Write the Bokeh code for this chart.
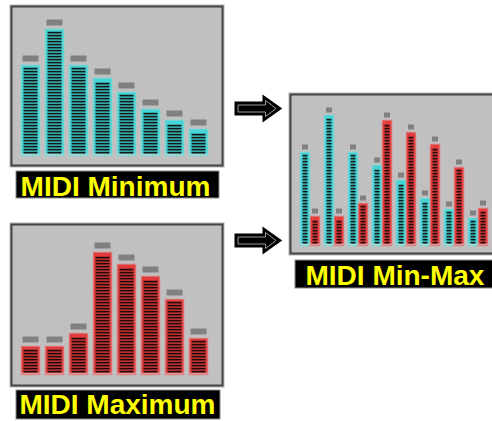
from bokeh.plotting import figure
from bokeh.models import Range1d, ColumnDataSource
from bokeh.core.properties import value
from bokeh.embed import file_html
from bokeh.resources import INLINE

# ---------------- data ----------------
channels = [1, 2, 3, 4, 5, 6, 7, 8]
min_values = [92, 129, 92, 79, 64, 47, 36, 27]
max_values = [29, 29, 42, 124, 112, 100, 77, 37]
titles = ["MIDI Minimum", "MIDI Maximum", "MIDI Min-Max"]

# ---------------- canvas ----------------
W, H = 492, 421
p = figure(width=W, height=H, x_range=Range1d(0, W), y_range=Range1d(H, 0),
           output_backend="svg", toolbar_location=None, min_border=0)
p.axis.visible = False
p.grid.visible = False
p.outline_line_color = None
p.background_fill_color = "white"
p.border_fill_color = "white"

SCHEME = {
    "cyan": dict(halo="#98cece", body="#44d6d6", light="#a6d6d6", dark="#101818"),
    "red": dict(halo="#d4a0a0", body="#e23c3c", light="#e49494", dark="#240a0a"),
}
CAP = "#808080"

layers = {k: dict(left=[], right=[], top=[], bottom=[], color=[]) for k in
          ["frame", "halo", "body", "light", "stripe", "cap"]}


def add(layer, l, r, t, b, c):
    d = layers[layer]
    d["left"].append(l); d["right"].append(r); d["top"].append(t); d["bottom"].append(b); d["color"].append(c)


def frame(x0, x1, y0, y1):
    add("frame", x0 - 1, x1 + 1, y0 - 1, y1 + 1, "#b4b4b4")
    add("frame", x0, x1, y0, y1, "#444444")
    add("frame", x0 + 2, x1 - 2, y0 + 2, y1 - 2, "#c0c0c0")


def bar(xc, w, v, base, k, scheme, cap_w, cap_h, cap_gap):
    s = SCHEME[scheme]
    top = round(base - v * k)
    x0, x1 = xc - w / 2, xc + w / 2
    add("halo", x0 - 1, x1 + 1, top - 1, base + 1, s["halo"])
    add("body", x0, x1, top, base, s["body"])
    add("light", x0, x1, base - 2, base, s["light"])
    j = 0
    while True:
        yb = base - 2 - 3 * j
        yt = yb - 1.75
        if yt < top + 2:
            break
        add("stripe", x0 + 2, x1 - 2, yt, yb, s["dark"])
        j += 1
    add("cap", xc - cap_w / 2, xc + cap_w / 2, top - cap_gap - cap_h, top - cap_gap, CAP)


# panel 1 : minimum
frame(10, 223, 5, 166)
for i, v in enumerate(min_values):
    bar(30 + 24 * i, 18, v, 155, 0.98, "cyan", 16, 6, 4)

# panel 2 : maximum
frame(10, 223, 223, 386)
for i, v in enumerate(max_values):
    bar(30 + 24 * i, 18, v, 374, 0.98, "red", 16, 6, 4)

# panel 3 : min-max
frame(289, 530, 93, 254)
for i, (a, b) in enumerate(zip(min_values, max_values)):
    bar(304.5 + 24 * i, 9, a, 245, 1.01, "cyan", 6, 5, 3)
    bar(314.5 + 24 * i, 9, b, 245, 1.01, "red", 6, 5, 3)

for name in ["frame", "halo", "body", "light", "stripe", "cap"]:
    p.quad(left="left", right="right", top="top", bottom="bottom", fill_color="color",
           line_color=None, source=ColumnDataSource(layers[name]))

# ---------------- labels ----------------
boxes = [(16, 218, 171, 197), (16, 219, 390, 418), (295, 530, 260, 287)]
for (x0, x1, y0, y1) in boxes:
    p.quad(left=[x0 - 1], right=[x1 + 1], top=[y0 - 1], bottom=[y1 + 1], fill_color="#8c8c8c", line_color=None)
    p.quad(left=[x0], right=[x1], top=[y0], bottom=[y1], fill_color="black", line_color=None)

p.text(x=[115, 117], y=[185.5, 404], text=titles[:2], text_font=value("Liberation Sans"),
       text_font_style="bold", text_font_size="28px", text_color="#ffff00",
       text_align="center", text_baseline="middle")
p.text(x=[305], y=[274.5], text=titles[2:], text_font=value("Liberation Sans"),
       text_font_style="bold", text_font_size="28px", text_color="#ffff00",
       text_align="left", text_baseline="middle")

# ---------------- arrows ----------------
def arrow(x0, x1, xh, yc, hs, hh):
    xs = [x0, xh, xh, x1, xh, xh, x0]
    ys = [yc - hs, yc - hs, yc - hh, yc, yc + hh, yc + hs, yc + hs]
    return xs, ys

axs, ays, ixs, iys = [], [], [], []
for yc in [108, 240]:
    xs, ys = arrow(235, 280, 263, yc, 6, 12)
    axs.append(xs); ays.append(ys)
    xs, ys = arrow(237.5, 275.5, 265, yc, 3.5, 8)
    ixs.append(xs); iys.append(ys)
p.patches(axs, ays, fill_color="black", line_color="black", line_width=2, line_join="miter")
p.patches(ixs, iys, fill_color="black", line_color="#9a9a9a", line_width=1, line_join="miter")

open("out.html", "w").write(file_html(p, INLINE))
